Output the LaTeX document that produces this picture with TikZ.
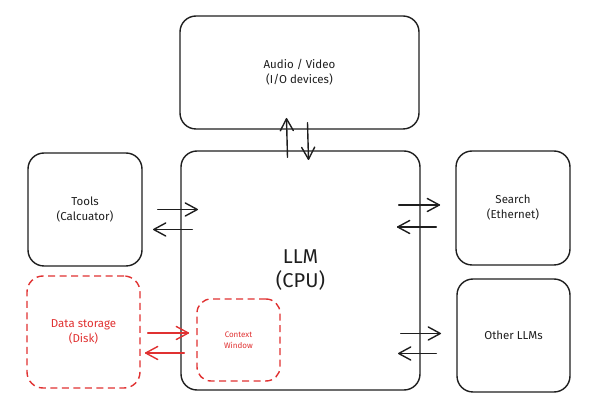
\documentclass[tikz,border=0pt]{standalone}
\usepackage{fontspec}
\setmainfont{Fira Sans}
\usetikzlibrary{arrows.meta, positioning, decorations.markings}
\definecolor{inkblack}{RGB}{30, 30, 30}
\definecolor{inkred}{RGB}{224, 49, 49}

\begin{document}
\begin{tikzpicture}[
    x=1pt, y=-1pt,
    box/.style={draw=inkblack, line width=1.4pt, rounded corners=16pt,
                align=center, font=\fontsize{11.5}{15}\selectfont, text=inkblack},
    membox/.style={box, draw=inkred, text=inkred, dashed,
                   dash pattern=on 7pt off 4.5pt},
    arr/.style={line width=1.4pt, color=inkblack, line cap=round, line join=round,
                postaction={decorate},
                decoration={markings, mark=at position 1 with
                  {\draw[line width=1.4pt, line cap=round] (-12pt,6.5pt) -- (0pt,0pt) -- (-12pt,-6.5pt);}}},
    rarr/.style={arr, color=inkred},
]
\useasboundingbox (0,0) rectangle (598,403);

% --- Boxes ---
\node[box, minimum width=239pt, minimum height=113pt] (av) at (299.5,72.5)
      {Audio / Video\\(I/O devices)};
\node[box, minimum width=239pt, minimum height=239pt,
      font=\fontsize{20}{24}\selectfont] (llm) at (300.5,270.5) {LLM\\(CPU)};
\node[box, minimum width=114pt, minimum height=113pt] (tools) at (85,209.5)
      {Tools\\(Calcuator)};
\node[membox, minimum width=113pt, minimum height=112pt] (store) at (83.5,332)
      {Data storage\\(Disk)};
\node[membox, minimum width=83pt, minimum height=82pt, rounded corners=14pt,
      font=\fontsize{8}{11}\selectfont] (ctx) at (238.5,340) {Context\\Window};
\node[box, minimum width=114pt, minimum height=114pt] (search) at (513,208)
      {Search\\(Ethernet)};
\node[box, minimum width=113pt, minimum height=113pt] (other) at (513.5,335.5)
      {Other LLMs};

% ---- Arrows ----
\draw[arr] ([xshift=-13pt, yshift=-7pt]llm.north) -- ([xshift=-13pt, yshift=11pt]av.south);
\draw[arr] ([xshift=8pt, yshift=7pt]av.south) -- ([xshift=8pt, yshift=-9pt]llm.north);

\draw[arr] ([xshift=15pt]tools.east) -- ([xshift=17pt]tools.east -| llm.west);
\draw[arr] ([xshift=12pt, yshift=-20pt]tools.east -| llm.west) -- ([xshift=11pt, yshift=-20pt]tools.east);

\draw[rarr] ([xshift=7pt, yshift=-1pt]store.east) -- ([xshift=8pt, yshift=-1pt]store.east -| llm.west);
\draw[rarr] ([xshift=4pt, yshift=-21pt]store.east -| llm.west) -- ([xshift=5pt, yshift=-21pt]store.east);

\draw[arr] ([xshift=-22pt, yshift=3pt]search.west -| llm.east) -- ([xshift=-16pt, yshift=3pt]search.west);
\draw[arr] ([xshift=-19pt, yshift=-19pt]search.west) -- ([xshift=-23pt, yshift=-19pt]search.west -| llm.east);

\draw[arr] ([xshift=-20pt, yshift=2pt]other.west -| llm.east) -- ([xshift=-16pt, yshift=2pt]other.west);
\draw[arr] ([xshift=-20pt, yshift=-18pt]other.west) -- ([xshift=-22pt, yshift=-18pt]other.west -| llm.east);

\end{tikzpicture}
\end{document}
